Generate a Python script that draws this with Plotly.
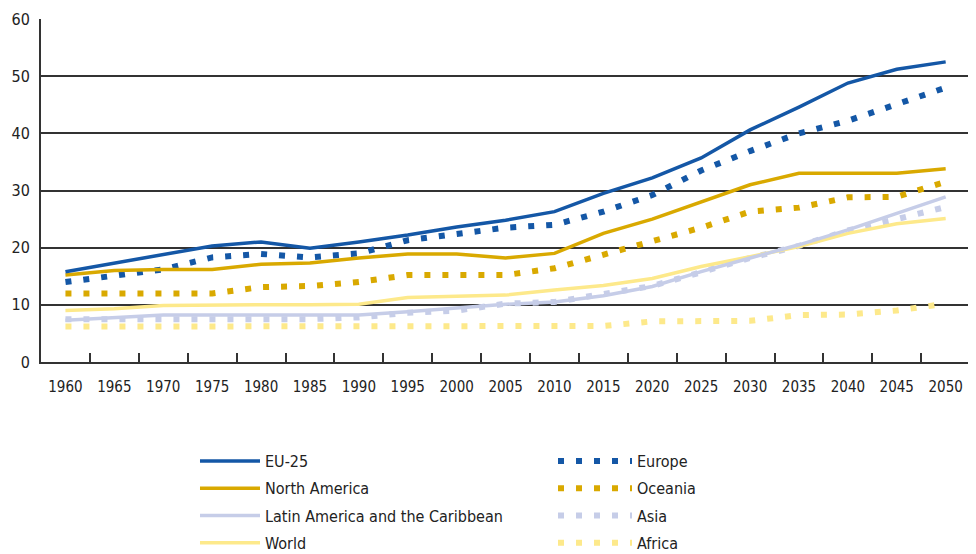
import plotly.graph_objects as go

years = ["1960", "1965", "1970", "1975", "1980", "1985", "1990", "1995", "2000", "2005",
         "2010", "2015", "2020", "2025", "2030", "2035", "2040", "2045", "2050"]

eu25 = [15.8, 17.3, 18.7, 20.3, 21.0, 19.9, 21.0, 22.2, 23.6, 24.8, 26.3, 29.5, 32.2, 35.7, 40.6, 44.6, 48.8, 51.2, 52.5]
north_america = [15.2, 16.0, 16.2, 16.2, 17.1, 17.3, 18.2, 18.9, 18.9, 18.2, 19.0, 22.5, 25.0, 28.0, 31.0, 33.0, 33.0, 33.0, 33.8]
latin_america = [7.3, 7.8, 8.2, 8.2, 8.2, 8.2, 8.2, 8.8, 9.4, 10.1, 10.5, 11.6, 13.2, 15.8, 18.2, 20.5, 23.1, 26.0, 28.9]
world = [9.0, 9.3, 9.9, 10.0, 10.0, 10.0, 10.1, 11.3, 11.5, 11.7, 12.6, 13.4, 14.6, 16.7, 18.4, 20.2, 22.5, 24.2, 25.1]

europe = [14.0, 15.2, 16.2, 18.3, 18.9, 18.3, 19.0, 21.3, 22.5, 23.5, 24.0, 26.3, 29.2, 33.5, 36.9, 40.0, 42.2, 45.2, 48.0]
oceania = [12.0, 12.0, 12.0, 12.0, 13.1, 13.3, 14.0, 15.2, 15.2, 15.2, 16.4, 18.7, 21.2, 23.5, 26.3, 27.0, 28.8, 28.9, 31.5]
asia = [7.5, 7.5, 7.5, 7.5, 7.5, 7.5, 7.8, 8.6, 9.0, 10.2, 10.5, 11.8, 13.3, 15.7, 18.2, 20.3, 23.0, 25.0, 27.1]
africa = [6.2, 6.2, 6.2, 6.2, 6.2, 6.2, 6.2, 6.2, 6.2, 6.2, 6.2, 6.3, 7.1, 7.2, 7.2, 8.2, 8.3, 9.0, 10.2]

y_ticks = [0, 10, 20, 30, 40, 50, 60]

BLUE = "#1457a6"
GOLD = "#d9a900"
LAV = "#c6cde8"
YEL = "#fde98b"

FONT = "DejaVu Sans Condensed, Liberation Sans Narrow, sans-serif"
FS = 16
TXT = "#222222"

solid = [
    ("EU-25", eu25, BLUE),
    ("North America", north_america, GOLD),
    ("Latin America and the Caribbean", latin_america, LAV),
    ("World", world, YEL),
]
dotted = [
    ("Europe", europe, BLUE),
    ("Oceania", oceania, GOLD),
    ("Asia", asia, LAV),
    ("Africa", africa, YEL),
]

xpos = list(range(len(years)))                       # category index of each year
boundaries = [i + 0.5 for i in xpos[:-1]]            # tick marks between years

fig = go.Figure()
# light series drawn first so darker ones sit on top; legend order set by rank
for rank, (name, vals, col) in reversed(list(enumerate(dotted))):
    fig.add_trace(go.Scatter(x=xpos, y=vals, name=name, mode="lines",
                             line=dict(color=col, width=6, dash="6px,12px"),
                             legend="legend2", legendgroup=name, legendrank=rank + 1,
                             hoverinfo="skip"))
for rank, (name, vals, col) in reversed(list(enumerate(solid))):
    fig.add_trace(go.Scatter(x=xpos, y=vals, name=name, mode="lines",
                             line=dict(color=col, width=3.5),
                             legend="legend", legendgroup=name, legendrank=rank + 1,
                             hoverinfo="skip"))

# the page places the figure 8px from the top-left corner of the window
fig.update_layout(
    width=968, height=546,
    margin=dict(l=33, r=0, t=11, b=192, autoexpand=False),
    paper_bgcolor="white", plot_bgcolor="white",
    font=dict(family=FONT, size=FS, color=TXT),
    showlegend=True,
    legend=dict(x=0.1647, y=-0.239, xanchor="left", yanchor="top",
                traceorder="grouped", bgcolor="rgba(0,0,0,0)",
                font=dict(family=FONT, size=FS, color=TXT),
                itemwidth=60, tracegroupgap=3.5),
    legend2=dict(x=0.5476, y=-0.239, xanchor="left", yanchor="top",
                 traceorder="grouped", bgcolor="rgba(0,0,0,0)",
                 font=dict(family=FONT, size=FS, color=TXT),
                 itemwidth=74, tracegroupgap=3.5),
)

fig.update_xaxes(
    range=[-0.5, 18.62], automargin=False,
    tickmode="array", tickvals=xpos, ticktext=years, ticks="",
    showgrid=False, zeroline=False,
    showline=True, linecolor="#333333", linewidth=2,
    minor=dict(tickmode="array", tickvals=boundaries, ticks="inside", ticklen=9,
               tickcolor="#333333", tickwidth=1.5, showgrid=False),
    tickangle=0, ticklabelstandoff=10, ticklabeloverflow="allow",
    tickfont=dict(family=FONT, size=15, color=TXT),
)
fig.update_yaxes(
    range=[0, 60], tickvals=y_ticks, ticktext=[str(v) for v in y_ticks], automargin=False,
    showgrid=True, gridcolor="#333333", gridwidth=2,
    showline=True, linecolor="#333333", linewidth=2,
    zeroline=False, ticks="", ticklabelstandoff=6,
    tickfont=dict(family=FONT, size=FS, color=TXT),
)

fig.write_html("out.html")
